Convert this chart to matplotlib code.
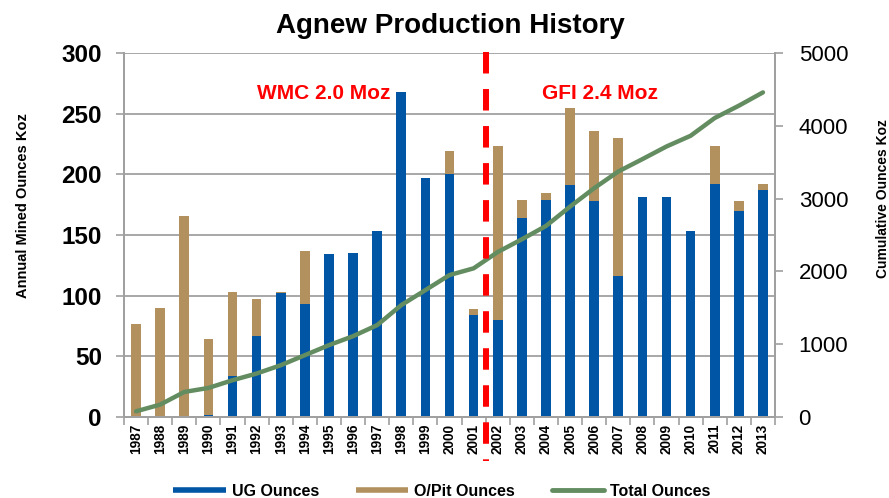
import matplotlib
matplotlib.use("Agg")
import matplotlib.pyplot as plt
from matplotlib.lines import Line2D
import numpy as np

plt.rcParams['font.family'] = ['Liberation Sans', 'DejaVu Sans']

years = ['1987', '1988', '1989', '1990', '1991', '1992', '1993', '1994', '1995',
         '1996', '1997', '1998', '1999', '2000', '2001', '2002', '2003', '2004',
         '2005', '2006', '2007', '2008', '2009', '2010', '2011', '2012', '2013']
ug_ounces = [0, 0, 0, 1.5, 34, 67, 102, 93, 134, 135, 153, 268, 197, 200, 84,
             80, 164, 179, 191, 178, 116, 181, 181, 153, 192, 170, 187]
opit_ounces = [77, 90, 166, 63, 69, 30, 1, 44, 0, 0, 0, 0, 0, 19, 5,
               143, 15, 6, 64, 58, 114, 0, 0, 0, 31, 8, 5]
total_cumulative = [78, 170, 344, 399, 505, 597, 711, 849, 987, 1110, 1262, 1537,
                    1743, 1950, 2042, 2266, 2441, 2624, 2890, 3143, 3372, 3542,
                    3716, 3863, 4107, 4276, 4459]
annotations = [('WMC 2.0 Moz', 7.8, 267), ('GFI 2.4 Moz', 19.25, 267)]
split_position = 14.5

BLUE = '#0055A5'
BROWN = '#B3915F'
GREEN = '#638D60'
GRAY = '#A0A0A0'

fig = plt.figure(figsize=(8.89, 4.98), dpi=100)
ax = fig.add_axes([124/889, 81/498, 651/889, 364/498])
x = np.arange(len(years))

ax.bar(x, ug_ounces, width=0.4, color=BLUE, zorder=2)
ax.bar(x, opit_ounces, width=0.4, bottom=ug_ounces, color=BROWN, zorder=2)

ax.set_xlim(-0.5, len(years) - 0.5)
ax.set_ylim(0, 300)
ax.set_yticks(range(0, 301, 50))
ax.yaxis.grid(True, color=GRAY, linewidth=1.3, zorder=0)
ax.set_axisbelow(True)

ax.set_xticks(x)
ax.set_xticklabels(years, rotation=90, fontsize=9.8, fontweight='bold', va='top')
ax.set_xticks(np.arange(-0.5, len(years), 1), minor=True)
ax.tick_params(axis='x', which='major', length=0, pad=5)
ax.tick_params(axis='x', which='minor', length=6, color=GRAY, width=1.2)
ax.tick_params(axis='y', length=6, color=GRAY, width=1.2, pad=10, labelsize=17.5)
for lab in ax.get_yticklabels():
    lab.set_fontweight('bold')

for s in ['left', 'bottom', 'right']:
    ax.spines[s].set_color(GRAY)
    ax.spines[s].set_linewidth(1.3)
ax.spines['top'].set_visible(False)

ax.set_ylabel('Annual Mined Ounces Koz', fontsize=10.5, fontweight='bold')
ax.yaxis.set_label_coords(-0.145, 0.58)

ax2 = ax.twinx()
ax2.plot(x, total_cumulative, color=GREEN, linewidth=3.2, zorder=3,
         solid_capstyle='round', solid_joinstyle='round')
ax2.set_ylim(0, 5000)
ax2.set_yticks(range(0, 5001, 1000))
ax2.tick_params(axis='y', length=6, color=GRAY, width=1.2, pad=11, labelsize=16)
for s in ['left', 'bottom', 'right']:
    ax2.spines[s].set_color(GRAY)
    ax2.spines[s].set_linewidth(1.3)
ax2.spines['top'].set_visible(False)
ax2.set_ylabel('Cumulative Ounces Koz', fontsize=10, fontweight='bold')
ax2.yaxis.set_label_coords(1.155, 0.60)

# dashed split line
ln = Line2D([split_position, split_position], [1.004, -0.12],
            transform=ax2.get_xaxis_transform(), color='#FF0000', linewidth=4.3,
            dashes=(3.6, 2.6), solid_capstyle='butt', dash_capstyle='butt',
            clip_on=False, zorder=5)
ax2.add_line(ln)

for txt, tx, ty in annotations:
    ax.text(tx, ty, txt, color='#FF0000', fontsize=15, fontweight='bold',
            ha='center', va='center', zorder=6)

fig.text(0.507, 1 - 33/498, 'Agnew Production History', fontsize=20,
         fontweight='bold', ha='center', va='baseline')

handles = [Line2D([], [], color=BLUE, linewidth=4, solid_capstyle='butt'),
           Line2D([], [], color=BROWN, linewidth=4, solid_capstyle='butt'),
           Line2D([], [], color=GREEN, linewidth=3.5, solid_capstyle='round')]
fig.legend(handles, ['UG Ounces', 'O/Pit Ounces', 'Total Ounces'],
           loc='center', bbox_to_anchor=(0.497, 1 - 491/498), ncol=3,
           frameon=False, prop={'weight': 'bold', 'size': 11.5},
           handlelength=3.3, handletextpad=0.35, columnspacing=2.3,
           borderaxespad=0, borderpad=0)

fig.savefig('out.png', dpi=100)
